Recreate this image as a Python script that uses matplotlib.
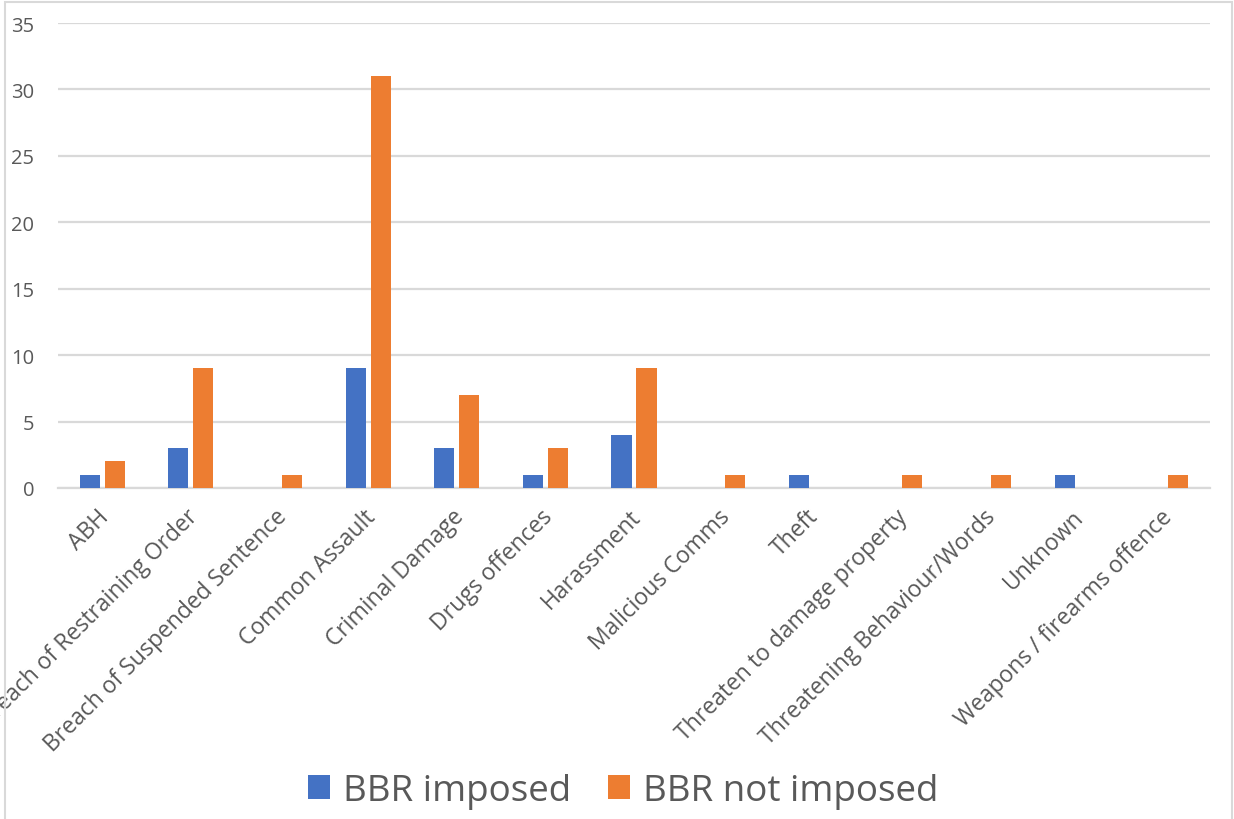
import matplotlib
matplotlib.use("Agg")
import matplotlib.pyplot as plt
from matplotlib.patches import Rectangle
import numpy as np

categories = [
    "ABH", "Breach of Restraining Order", "Breach of Suspended Sentence",
    "Common Assault", "Criminal Damage", "Drugs offences", "Harassment",
    "Malicious Comms", "Theft", "Threaten to damage property",
    "Threatening Behaviour/Words", "Unknown", "Weapons / firearms offence",
]
bbr_imposed = [1, 3, 0, 9, 3, 1, 4, 0, 1, 0, 0, 1, 0]
bbr_not_imposed = [2, 9, 1, 31, 7, 3, 9, 1, 0, 1, 1, 0, 1]
y_ticks = [0, 5, 10, 15, 20, 25, 30, 35]

BLUE = "#4472C4"
ORANGE = "#ED7D31"
TEXT = "#595959"
GRID = "#D9D9D9"

plt.rcParams["font.family"] = ["Open Sans", "DejaVu Sans"]

fig = plt.figure(figsize=(12.34, 8.2), dpi=100)
ax = fig.add_axes([58 / 1234, 1 - 489 / 820, (1210 - 58) / 1234, (489 - 24) / 820])

x = np.arange(len(categories))
width = 0.226
offset = 0.141
ax.bar(x - offset, bbr_imposed, width, color=BLUE, label="BBR imposed", zorder=3)
ax.bar(x + offset, bbr_not_imposed, width, color=ORANGE, label="BBR not imposed", zorder=3)

ax.set_xlim(-0.5, len(categories) - 0.5)
ax.set_ylim(0, 35)
ax.set_yticks(y_ticks)
ax.yaxis.grid(True, color=GRID, linewidth=1.6, zorder=0)
ax.set_axisbelow(True)

for side in ("top", "right", "left"):
    ax.spines[side].set_visible(False)
ax.spines["bottom"].set_color(GRID)
ax.spines["bottom"].set_linewidth(1.6)

ax.tick_params(axis="y", length=0, pad=17, labelsize=14.5, labelcolor=TEXT)
ax.tick_params(axis="x", length=0, pad=18, labelsize=16.5, labelcolor=TEXT)
ax.set_xticks(x + 0.04)
ax.set_xticklabels(categories, rotation=45, ha="right", va="center",
                   rotation_mode="anchor")

handles, labels = ax.get_legend_handles_labels()
fig.legend(handles, labels, loc="center", bbox_to_anchor=(0.505, 1 - 792 / 820),
           ncol=2, frameon=False, fontsize=26.5, labelcolor=TEXT,
           handlelength=0.6, handleheight=0.6, handletextpad=0.35, columnspacing=1.0)

fig.patches.append(Rectangle((5 / 1234, -0.02), (1232 - 5) / 1234, 1.02 - 3 / 820,
                             transform=fig.transFigure, fill=False,
                             edgecolor=GRID, linewidth=1.5))

fig.savefig("out.png", dpi=100)
